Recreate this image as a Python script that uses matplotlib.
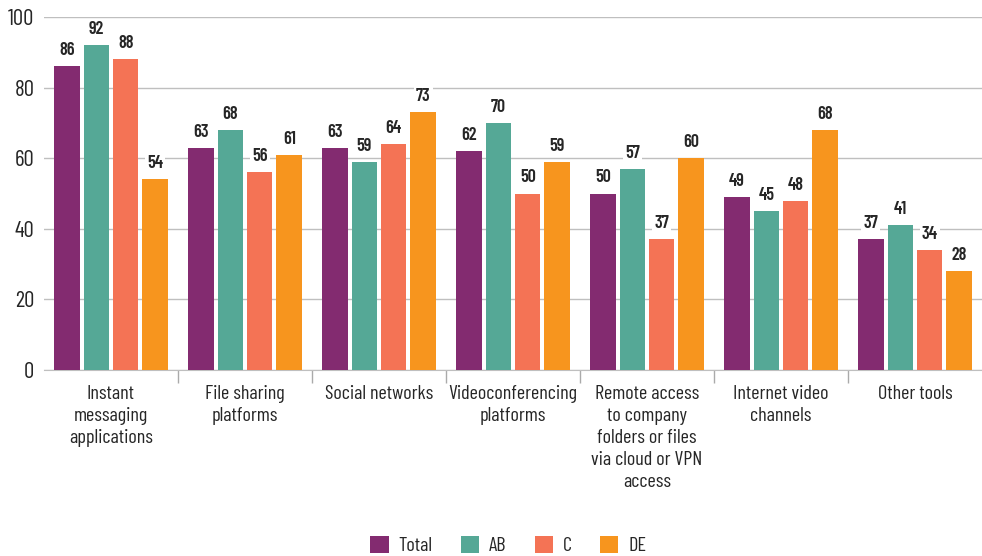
import matplotlib
matplotlib.use("Agg")
import matplotlib.pyplot as plt
import numpy as np

categories = ["Instant\nmessaging\napplications", "File sharing\nplatforms", "Social networks",
              "Videoconferencing\nplatforms", "Remote access\nto company\nfolders or files\nvia cloud or VPN\naccess",
              "Internet video\nchannels", "Other tools"]
series_names = ["Total", "AB", "C", "DE"]
total = [86, 63, 63, 62, 50, 49, 37]
ab = [92, 68, 59, 70, 57, 45, 41]
c = [88, 56, 64, 50, 37, 48, 34]
de = [54, 61, 73, 59, 60, 68, 28]
yticks = [0, 20, 40, 60, 80, 100]

colors = ["#832B70", "#55A896", "#F47355", "#F7951E"]

plt.rcParams['font.family'] = ['Barlow Condensed', 'DejaVu Sans']
txtcol = '#262626'

fig = plt.figure(figsize=(9.82, 5.56), dpi=100)
ax = fig.add_axes([44/982, 186/556, 938/982, 353/556])

x = np.arange(len(categories))
step = 0.22
w = 0.19
data = [total, ab, c, de]
for i, (vals, col, nm) in enumerate(zip(data, colors, series_names)):
    pos = x + (i - 1.5) * step
    ax.bar(pos, vals, width=w, color=col, label=nm, zorder=3)
    for p, v in zip(pos, vals):
        ax.text(p, v + 2.0, str(v), ha='center', va='bottom', fontsize=13, fontweight=600,
                color=txtcol, zorder=4,
                bbox=dict(facecolor='white', edgecolor='none', pad=1.5))

ax.set_xlim(-0.5, len(categories) - 0.5)
ax.set_ylim(0, 100)
ax.set_yticks(yticks)
ax.set_yticklabels([str(t) for t in yticks], fontsize=16.5, color=txtcol)
ax.grid(axis='y', color='#BFBFBF', linewidth=1.0, zorder=0)
ax.set_xticks(x)
ax.set_xticklabels(categories, fontsize=14.5, color=txtcol, linespacing=1.28)
ax.set_xticks(np.arange(0.5, len(categories) - 0.5, 1), minor=True)
ax.tick_params(axis='x', which='major', length=0, pad=11)
ax.tick_params(axis='x', which='minor', length=9, color='#AAAAAA', width=1)
ax.tick_params(axis='y', length=0, pad=7)
for s in ['top', 'right', 'left']:
    ax.spines[s].set_visible(False)
ax.spines['bottom'].set_color('#BFBFBF')

ax.legend(loc='center', bbox_to_anchor=(0.495, -0.497), ncol=4, frameon=False,
          fontsize=14.5, handlelength=0.9, handleheight=0.9, columnspacing=1.4, handletextpad=0.5,
          bbox_transform=ax.transAxes, labelcolor=txtcol)

fig.savefig("out.png", dpi=100)
